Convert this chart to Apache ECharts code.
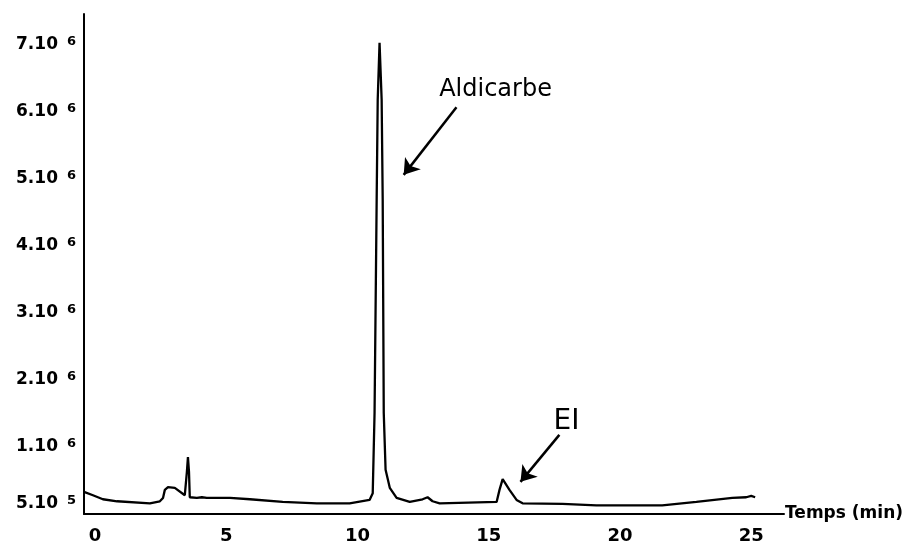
<!DOCTYPE html>
<html>
<head>
<meta charset="utf-8">
<script src="https://cdn.jsdelivr.net/npm/echarts@6/dist/echarts.min.js"></script>
<style>
  html, body { margin: 0; padding: 0; background: #fff; }
  #chart { width: 906px; height: 547px; }
</style>
</head>
<body>
<div id="chart"></div>
<script>
// Retention time (min)
const time = [
  -0.42, -0.08, 0.30, 0.84, 2.09, 2.47, 2.59, 2.66, 2.78, 3.04, 3.42,
  3.50, 3.54, 3.58, 3.61, 3.88, 4.07, 4.26, 5.14, 5.90, 7.15, 8.45,
  9.70, 10.46, 10.58, 10.65, 10.73, 10.77, 10.84, 10.92, 10.96, 11.00,
  11.07, 11.23, 11.49, 11.99, 12.48, 12.67, 12.86, 13.13, 15.30, 15.41,
  15.53, 15.79, 16.06, 16.29, 17.81, 19.10, 21.61, 22.91, 24.28, 24.81,
  25.00, 25.15
];
// Detector signal (counts)
const intensity = [
  330000, 280000, 220000, 190000, 160000, 190000, 240000, 360000, 400000, 390000, 280000,
  630000, 850000, 630000, 250000, 240000, 250000, 240000, 240000, 220000, 180000, 160000,
  160000, 210000, 310000, 1510000, 4690000, 6180000, 7030000, 6180000, 4690000, 1510000,
  660000, 390000, 240000, 180000, 220000, 250000, 190000, 160000, 180000, 360000,
  520000, 360000, 210000, 160000, 150000, 130000, 130000, 180000, 240000, 250000,
  270000, 250000
];

// Tick labels
const xTickValues = [0, 5, 10, 15, 20, 25];
const yTickValues = [150000, 1000000, 2000000, 3000000, 4000000, 5000000, 6000000, 7000000];
const yTickBase = ['5.10', '1.10', '2.10', '3.10', '4.10', '5.10', '6.10', '7.10'];
const yTickExp = ['5', '6', '6', '6', '6', '6', '6', '6'];

// Annotations
const peakNames = ['Aldicarbe', 'EI'];
const peakLabelAt = [[15.26, 6330000], [17.96, 1370000]];
const arrowFrom = [[13.77, 6070000], [17.69, 1180000]];
const arrowTo = [[11.76, 5060000], [16.21, 480000]];

const chart = echarts.init(document.getElementById('chart'), null, { renderer: 'canvas' });

const tickFont = '"DejaVu Sans", sans-serif';

chart.setOption({
  animation: false,
  backgroundColor: '#ffffff',
  grid: { left: 84, right: 121, top: 14, bottom: 33, containLabel: false },
  xAxis: {
    type: 'value',
    min: -0.42,
    max: 26.25,
    name: 'Temps (min)',
    nameLocation: 'end',
    nameGap: 1,
    nameTextStyle: { color: '#000', fontFamily: tickFont, fontWeight: 'bold', fontSize: 17, verticalAlign: 'middle' },
    axisLine: { show: true, onZero: false, lineStyle: { color: '#000', width: 2 } },
    axisTick: { show: false },
    splitLine: { show: false },
    axisLabel: {
      customValues: xTickValues,
      color: '#000',
      fontFamily: tickFont,
      fontWeight: 'bold',
      fontSize: 18,
      margin: 13
    }
  },
  yAxis: {
    type: 'value',
    min: 0,
    max: 7460000,
    axisLine: { show: true, onZero: false, lineStyle: { color: '#000', width: 2 } },
    axisTick: { show: false },
    splitLine: { show: false },
    axisLabel: {
      customValues: yTickValues,
      margin: 8,
      formatter: function (v) {
        const i = yTickValues.indexOf(v);
        if (i < 0) return '';
        return '{m|' + yTickBase[i] + '}{s|' + yTickExp[i] + '}';
      },
      rich: {
        m: { color: '#000', fontFamily: tickFont, fontWeight: 'bold', fontSize: 17, lineHeight: 20 },
        s: { color: '#000', fontFamily: tickFont, fontWeight: 'bold', fontSize: 13, lineHeight: 20, verticalAlign: 'top', padding: [0, 0, 0, 9] }
      }
    }
  },
  series: [{
    type: 'line',
    data: time.map((t, i) => [t, intensity[i]]),
    showSymbol: false,
    smooth: false,
    lineStyle: { color: '#000', width: 2.3 },
    itemStyle: { color: '#000' },
    markLine: {
      silent: true,
      symbol: ['none', 'arrow'],
      symbolSize: 15,
      lineStyle: { color: '#000', width: 2.5, type: 'solid' },
      label: { show: false },
      data: arrowFrom.map((f, i) => [{ coord: f }, { coord: arrowTo[i] }])
    },
    markPoint: {
      silent: true,
      symbol: 'circle',
      symbolSize: 1,
      itemStyle: { color: 'rgba(0,0,0,0)' },
      label: {
        show: true,
        position: 'inside',
        color: '#000',
        fontFamily: tickFont,
        formatter: function (p) { return p.name; }
      },
      data: peakNames.map((n, i) => ({
        name: n,
        coord: peakLabelAt[i],
        label: { fontSize: i === 0 ? 24 : 28 }
      }))
    }
  }]
});
</script>
</body>
</html>
